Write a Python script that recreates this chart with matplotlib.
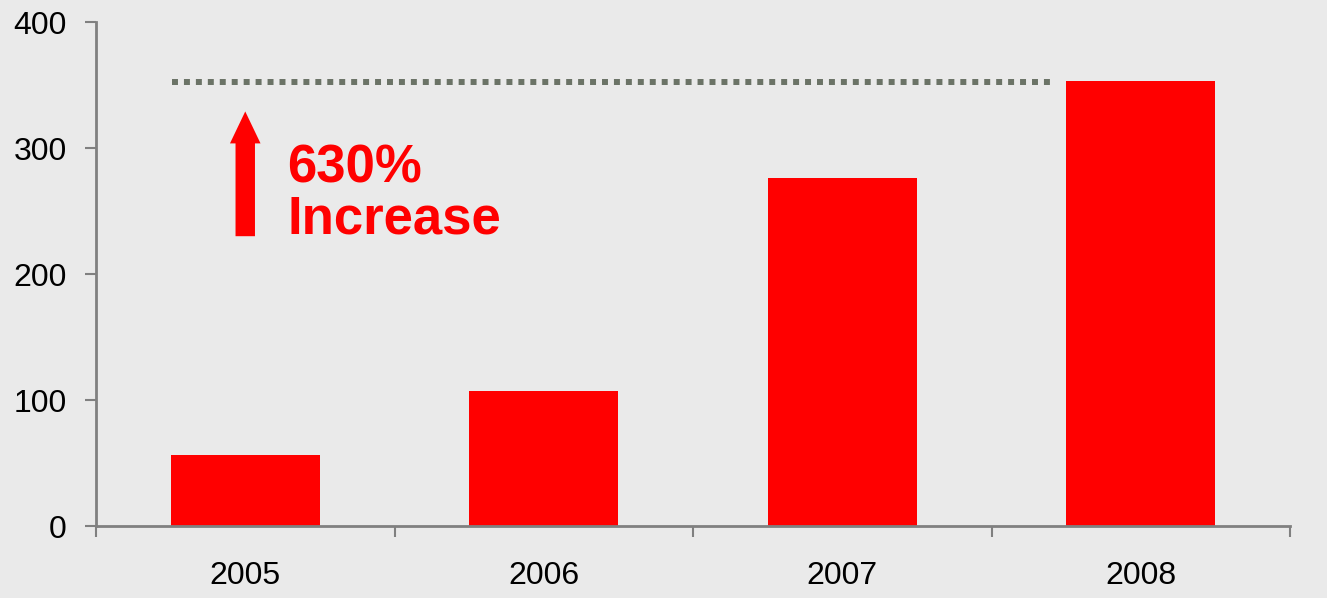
import matplotlib
matplotlib.use("Agg")
import matplotlib.pyplot as plt
import numpy as np

years = ["2005", "2006", "2007", "2008"]
values = [56, 107, 276, 353]
target = 352
note = "630%\nIncrease"

plt.rcParams['font.family'] = ['Liberation Sans', 'DejaVu Sans']
bg = '#eaeaea'
red = '#ff0000'
grey = '#808080'

fig = plt.figure(figsize=(13.27, 5.98), dpi=100, facecolor=bg)
ax = fig.add_axes([96/1327, 1-526/598, (1290-96)/1327, (526-22)/598])
ax.set_facecolor(bg)

x = np.arange(len(years))
ax.bar(x, values, width=0.5, color=red, zorder=2)

# dotted reference line at the 2008 level
ax.plot([-0.245, 2.71], [target, target], color='#6b7366', lw=4.3,
        linestyle=(0, (1, 1)), dash_capstyle='butt', zorder=3)

# arrow and label
ax.annotate('', xy=(0, 329), xytext=(0, 230),
            arrowprops=dict(arrowstyle='simple,head_width=2.2,head_length=2.3,tail_width=1.4',
                            color=red, lw=0, shrinkA=0, shrinkB=0))
ax.text(0.14, 232, note, color=red, fontsize=38, fontweight='bold',
        ha='left', va='baseline', linespacing=1.03)

ax.set_xlim(-0.5, 3.5)
ax.set_ylim(0, 400)
ax.set_yticks([0, 100, 200, 300, 400])

ax.set_xticks(np.arange(-0.5, 4, 1))
ax.set_xticklabels([])
ax.set_xticks(x, minor=True)
ax.set_xticklabels(years, minor=True)
ax.tick_params(axis='x', which='minor', length=0, pad=25, labelsize=23)
ax.tick_params(axis='x', which='major', length=8, width=1.5, color=grey)
ax.tick_params(axis='y', length=8, width=1.5, color=grey, labelsize=23, pad=13)

for s in ['top', 'right']:
    ax.spines[s].set_visible(False)
for s in ['left', 'bottom']:
    ax.spines[s].set_color(grey)
    ax.spines[s].set_linewidth(2)

fig.savefig('out.png', dpi=100, facecolor=bg)
